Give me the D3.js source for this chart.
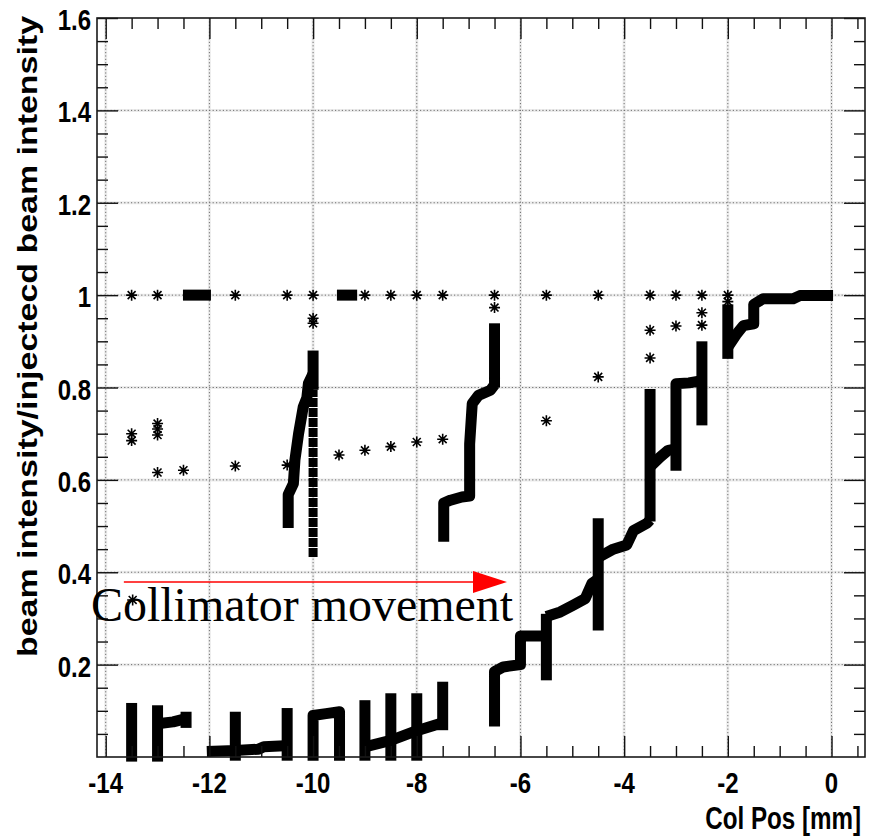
<!DOCTYPE html>
<html>
<head>
<meta charset="utf-8">
<script src="https://cdn.jsdelivr.net/npm/d3@7"></script>
<style>
body{margin:0;background:#fff;}
svg{display:block;}
</style>
</head>
<body>
<svg id="plot" width="869" height="838"></svg>
<script>
//Axis ticks and labels
const xTicks = [-14, -12, -10, -8, -6, -4, -2, 0];
const xTickLabels = ['-14', '-12', '-10', '-8', '-6', '-4', '-2', '0'];
const yTicks = [0.2, 0.4, 0.6, 0.8, 1, 1.2, 1.4, 1.6];
const yTickLabels = ['0.2', '0.4', '0.6', '0.8', '1', '1.2', '1.4', '1.6'];
const xMinorTicks = d3.range(-28, 2).map(i => i / 2).filter(d => !xTicks.includes(d));
const yMinorTicks = d3.range(1, 32).map(i => i / 20).filter(d => !yTicks.some(t => Math.abs(t - d) < 1e-9));

//Isolated measurements [col pos, ratio], one star each
const singleStars = [
	[-13.5, 1], [-13, 1], [-11.5, 1], [-10.5, 1], [-10, 1], [-9, 1], [-8.5, 1], [-8, 1],
	[-7.5, 1], [-6.5, 1], [-5.5, 1], [-4.5, 1], [-3.5, 1], [-3, 1], [-2.5, 1], [-2, 1],
	[-13.5, 0.70], [-13.5, 0.685], [-13, 0.722], [-13, 0.71], [-13, 0.697], [-13, 0.616],
	[-12.5, 0.621], [-11.5, 0.63], [-10.5, 0.632], [-10, 0.95], [-10, 0.939],
	[-9.5, 0.654], [-9, 0.664], [-8.5, 0.672], [-8, 0.682], [-7.5, 0.688],
	[-6.5, 0.973], [-6.5, 0.82], [-5.5, 0.728], [-4.5, 0.823], [-3.5, 0.924], [-3.5, 0.864],
	[-3, 0.933], [-2.5, 0.962], [-2.5, 0.935], [-2, 0.986], [-13.48, 0.34]
];

const denseRuns = [
	[[-12.51, 1], [-11.97, 1]],
	[[-9.54, 1], [-9.15, 1]],
	[[-13.5, -0.01], [-13.5, 0.117]],
	[[-13, -0.01], [-13, 0.112]],
	[[-13, 0.072], [-12.7, 0.076], [-12.45, 0.083]],
	[[-12.45, 0.063], [-12.45, 0.098]],
	[[-12.05, 0.012], [-11.5, 0.014], [-11.05, 0.017], [-10.95, 0.022], [-10.45, 0.025]],
	[[-11.5, -0.008], [-11.5, 0.098]],
	[[-10.5, -0.008], [-10.5, 0.106]],
	[[-10, -0.008], [-10, 0.09], [-9.75, 0.094], [-9.49, 0.098], [-9.49, -0.008]],
	[[-9, -0.008], [-9, 0.123]],
	[[-9, 0.022], [-8.5, 0.036], [-8, 0.057], [-7.5, 0.074]],
	[[-8.5, -0.008], [-8.5, 0.138]],
	[[-8, -0.008], [-8, 0.138]],
	[[-7.5, 0.058], [-7.5, 0.163]],
	[[-6.5, 0.066], [-6.5, 0.185], [-6.33, 0.195], [-6, 0.2], [-6, 0.262], [-5.5, 0.262]],
	[[-5.5, 0.166], [-5.5, 0.31]],
	[[-5.5, 0.304], [-5.23, 0.314], [-4.98, 0.329], [-4.75, 0.343], [-4.62, 0.376], [-4.5, 0.385]],
	[[-4.5, 0.274], [-4.5, 0.517]],
	[[-4.5, 0.432], [-4.21, 0.45], [-3.95, 0.459], [-3.82, 0.49], [-3.56, 0.506], [-3.5, 0.513]],
	[[-3.5, 0.51], [-3.5, 0.797]],
	[[-3.5, 0.628], [-3.31, 0.649], [-3.15, 0.664], [-3, 0.667]],
	[[-3, 0.62], [-3, 0.808], [-2.75, 0.81], [-2.5, 0.815]],
	[[-2.5, 0.718], [-2.5, 0.9]],
	[[-2, 0.862], [-2, 0.98]],
	[[-2, 0.887], [-1.83, 0.916], [-1.7, 0.934], [-1.5, 0.938], [-1.5, 0.98], [-1.32, 0.992], [-0.74, 0.992], [-0.61, 0.999], [0.03, 0.999]],
	[[-10.48, 0.496], [-10.48, 0.568], [-10.38, 0.592], [-10.35, 0.643], [-10.28, 0.7], [-10.19, 0.758], [-10.12, 0.778], [-10.09, 0.809], [-10.03, 0.823], [-10, 0.83]],
	[[-10, 0.795], [-10, 0.88]],
	[[-7.48, 0.466], [-7.48, 0.55], [-7.35, 0.556], [-7.13, 0.563], [-6.98, 0.565], [-6.98, 0.678], [-6.93, 0.765], [-6.81, 0.783], [-6.58, 0.794], [-6.5, 0.806]],
	[[-6.5, 0.8], [-6.5, 0.939]]
];

//Looser stacks of stars [col pos, from, to]
const starColumns = [[-10, 0.433, 0.795]];

//Annotation arrow, in data units
const arrowFrom = -13.65;
const arrowTo = -6.26;
const arrowLevel = 0.379;

//Prepare DOM canvas
const svg = d3.select('#plot');
const frame = {left: 97, right: 865, top: 18, bottom: 757};

const x = d3.scaleLinear().domain([-14.168, 0.646]).range([frame.left, frame.right]);
const y = d3.scaleLinear().domain([0, 1.6]).range([frame.bottom, frame.top]);

//Dotted grid
const grid = svg.append('g').attr('class', 'grid');
['#ececec', '#6f6f6f'].forEach((c, i) => {
	const g = grid.append('g')
		.attr('stroke', c)
		.attr('stroke-width', i ? 1 : 3)
		.attr('stroke-dasharray', i ? '1.2,2.2' : null);
	g.selectAll('line.v').data(xTicks).enter()
		.append('line').attr('class', 'v')
		.attr('x1', d => x(d)).attr('x2', d => x(d))
		.attr('y1', frame.top).attr('y2', frame.bottom);
	g.selectAll('line.h').data(yTicks.slice(0, -1)).enter()
		.append('line').attr('class', 'h')
		.attr('x1', frame.left).attr('x2', frame.right)
		.attr('y1', d => y(d)).attr('y2', d => y(d));
});

//Data
const line = d3.line().x(d => x(d[0])).y(d => y(d[1]));
const plot = svg.append('g').attr('class', 'data');

plot.selectAll('.run').data(denseRuns).enter()
	.append('path').attr('class', 'run')
	.attr('d', line)
	.style('fill', 'none')
	.style('stroke', '#000')
	.style('stroke-width', '11px')
	.style('stroke-linejoin', 'round')
	.style('stroke-linecap', 'butt');

plot.selectAll('.column').data(starColumns).enter()
	.append('line').attr('class', 'column')
	.attr('x1', d => x(d[0])).attr('x2', d => x(d[0]))
	.attr('y1', d => y(d[1])).attr('y2', d => y(d[2]))
	.style('stroke', '#000')
	.style('stroke-width', '9px')
	.style('stroke-dasharray', '9,1');

const r = 5.5, a = r * 0.72;
const starPath = `M${-r},0L${r},0M0,${-r}L0,${r}M${-a},${-a}L${a},${a}M${-a},${a}L${a},${-a}`;
plot.selectAll('.star').data(singleStars).enter()
	.append('path').attr('class', 'star')
	.attr('d', starPath)
	.attr('transform', d => `translate(${x(d[0])},${y(d[1])})`)
	.style('stroke', '#000')
	.style('stroke-width', '1.6px');

//Ticks on all four sides, pointing inwards
const axes = svg.append('g').attr('class', 'axes').attr('color', '#111');
function addAxis(axisFn, scale, values, size, tx, ty){
	axes.append('g')
		.attr('transform', `translate(${tx},${ty})`)
		.call(axisFn(scale).tickValues(values).tickSize(-size).tickFormat(''))
		.call(g => g.select('.domain').remove())
		.call(g => g.selectAll('line').attr('stroke-width', 1.4));
}
addAxis(d3.axisBottom, x, xTicks, 21, 0, frame.bottom);
addAxis(d3.axisBottom, x, xMinorTicks, 11, 0, frame.bottom);
addAxis(d3.axisTop, x, xTicks, 21, 0, frame.top);
addAxis(d3.axisTop, x, xMinorTicks, 11, 0, frame.top);
addAxis(d3.axisLeft, y, yTicks, 21, frame.left, 0);
addAxis(d3.axisLeft, y, yMinorTicks, 11, frame.left, 0);
addAxis(d3.axisRight, y, yTicks, 21, frame.right, 0);
addAxis(d3.axisRight, y, yMinorTicks, 11, frame.right, 0);

svg.append('rect')
	.attr('x', frame.left).attr('y', frame.top)
	.attr('width', frame.right - frame.left).attr('height', frame.bottom - frame.top)
	.style('fill', 'none')
	.style('stroke', '#1a1a1a')
	.style('stroke-width', '1.6px');

//Tick labels
const labelFont = '"Liberation Sans", Arial, Helvetica, sans-serif';
svg.append('g').selectAll('text').data(xTicks).enter()
	.append('text')
	.attr('transform', d => `translate(${x(d)},793) scale(0.8,1)`)
	.attr('text-anchor', 'middle')
	.style('font-family', labelFont).style('font-weight', 'bold').style('font-size', '30px')
	.text((d, i) => xTickLabels[i]);

svg.append('g').selectAll('text').data(yTicks).enter()
	.append('text')
	.attr('transform', d => `translate(91,${y(d) + 12}) scale(0.8,1)`)
	.attr('text-anchor', 'end')
	.style('font-family', labelFont).style('font-weight', 'bold').style('font-size', '30px')
	.text((d, i) => yTickLabels[i]);

//Axis titles
svg.append('text')
	.attr('transform', 'translate(861,829) scale(0.78,1)')
	.attr('text-anchor', 'end')
	.style('font-family', labelFont).style('font-weight', 'bold').style('font-size', '31px')
	.text('Col Pos [mm]');

svg.append('text')
	.attr('transform', 'translate(37,657) rotate(-90)')
	.attr('textLength', 641).attr('lengthAdjust', 'spacingAndGlyphs')
	.style('font-family', labelFont).style('font-weight', 'bold').style('font-size', '27px')
	.text('beam intensity/injectecd beam intensity');

//Collimator movement arrow
const ay = y(arrowLevel);
const tip = x(arrowTo);
svg.append('line')
	.attr('x1', x(arrowFrom)).attr('x2', tip - 30)
	.attr('y1', ay).attr('y2', ay)
	.style('stroke', '#ff0000')
	.style('stroke-width', '1.5px');
svg.append('path')
	.attr('d', `M${tip - 34},${ay - 11}L${tip},${ay}L${tip - 34},${ay + 11}Z`)
	.style('fill', '#ff0000');

svg.append('text')
	.attr('x', 91).attr('y', 621)
	.attr('textLength', 422).attr('lengthAdjust', 'spacingAndGlyphs')
	.style('font-family', '"Liberation Serif", "Times New Roman", serif')
	.style('font-size', '48px')
	.text('Collimator movement');
</script>
</body>
</html>
